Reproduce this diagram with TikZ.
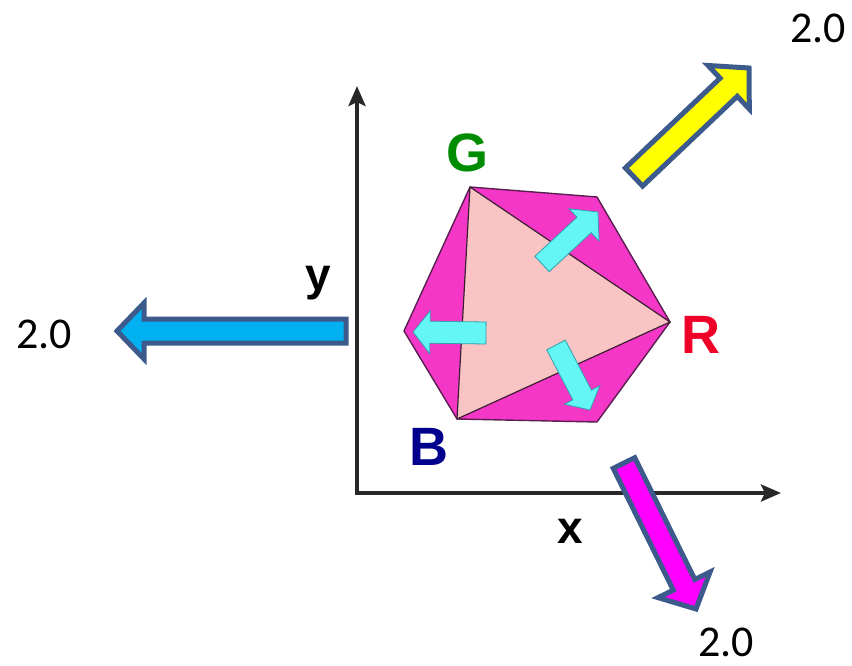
\documentclass[tikz,border=0pt]{standalone}
\usepackage{fontspec}
\setmainfont{Carlito}
\newfontfamily\arialfont{Liberation Sans}
\usetikzlibrary{arrows.meta, calc}
\definecolor{hexpink}{RGB}{245, 55, 200}
\definecolor{tripink}{RGB}{250, 196, 196}
\definecolor{arrowcyan}{RGB}{100, 245, 245}
\definecolor{cyanedge}{RGB}{50, 160, 170}
\definecolor{edgeblue}{RGB}{60, 90, 140}
\definecolor{skyblue}{RGB}{0, 176, 240}
\definecolor{brightyellow}{RGB}{255, 255, 0}
\definecolor{brightmagenta}{RGB}{255, 0, 255}
\definecolor{gletter}{RGB}{0, 140, 0}
\definecolor{rletter}{RGB}{240, 0, 40}
\definecolor{bletter}{RGB}{0, 0, 140}
\definecolor{axisgray}{RGB}{40, 40, 40}

% #1 style, #2 tail, #3 tip, #4 half shaft, #5 half head, #6 head length
\newcommand{\blockarrow}[6]{%
  \coordinate (hb) at ($(#3)!#6!(#2)$);
  \draw[#1] ($(#2)!#4!90:(#3)$) -- ($(hb)!#4!90:(#3)$) -- ($(hb)!#5!90:(#3)$) -- (#3)
    -- ($(hb)!#5!-90:(#3)$) -- ($(hb)!#4!-90:(#3)$) -- ($(#2)!#4!-90:(#3)$) -- cycle;
}

\begin{document}
\begin{tikzpicture}[x=1pt, y=-1pt,
  axis/.style={draw=axisgray, line width=4pt, line join=miter,
    {Stealth[length=20pt, width=17pt, inset=4pt]}-{Stealth[length=20pt, width=17pt, inset=4pt]}},
  hexedge/.style={draw={rgb,255:red,90;green,30;blue,80}, line width=1.4pt, line join=round},
  triedge/.style={draw={rgb,255:red,60;green,30;blue,50}, line width=1.2pt, line join=round},
  bigarrow/.style={draw=edgeblue, line width=5pt, line join=miter},
  smallarrow/.style={draw=cyanedge, fill=arrowcyan, line width=0.8pt, line join=miter},
  letter/.style={font=\arialfont\bfseries\fontsize{54}{60}\selectfont, anchor=base, inner sep=0pt},
  axislabel/.style={font=\arialfont\bfseries\fontsize{46}{50}\selectfont, anchor=base, inner sep=0pt},
  value/.style={font=\fontsize{44}{48}\selectfont, anchor=base, inner sep=0pt}
]
  \useasboundingbox (0,0) rectangle (852,666);

  \coordinate (O) at (357,493);
  \coordinate (ytop) at (357,86);
  \coordinate (xend) at (781,493);
  \draw[axis] (ytop) -- (O) -- (xend);

  \coordinate (G) at (470,187);
  \coordinate (hTR) at (597,197);
  \coordinate (R) at (670,322);
  \coordinate (hBR) at (597,422);
  \coordinate (B) at (457,419);
  \coordinate (hL) at (404,331);
  \draw[hexedge, fill=hexpink] (G) -- (hTR) -- (R) -- (hBR) -- (B) -- (hL) -- cycle;
  \draw[triedge, fill=tripink] (G) -- (R) -- (B) -- cycle;

  \coordinate (c1tail) at (542,264);
  \coordinate (c1tip) at (598,212);
  \coordinate (c2tail) at (486,333);
  \coordinate (c2tip) at (413,332);
  \coordinate (c3tail) at (556,345);
  \coordinate (c3tip) at (590,410);
  \blockarrow{smallarrow}{c1tail}{c1tip}{10.5pt}{22pt}{19pt}
  \blockarrow{smallarrow}{c2tail}{c2tip}{11pt}{21.5pt}{17pt}
  \blockarrow{smallarrow}{c3tail}{c3tip}{10.5pt}{20pt}{17pt}

  \coordinate (ytail) at (634,177);
  \coordinate (ytip) at (749,68);
  \coordinate (btail) at (346,331);
  \coordinate (btip) at (117,331);
  \coordinate (mtail) at (624,463);
  \coordinate (mtip) at (696,609);
  \blockarrow{bigarrow, fill=brightyellow}{ytail}{ytip}{12.5pt}{30pt}{28pt}
  \blockarrow{bigarrow, fill=skyblue}{btail}{btip}{12pt}{28pt}{27pt}
  \blockarrow{bigarrow, fill=brightmagenta}{mtail}{mtip}{12pt}{29pt}{27pt}

  \node[letter, text=gletter] (Glabel) at (467,172) {G};
  \node[letter, text=rletter] (Rlabel) at (701,353) {R};
  \node[letter, text=bletter] (Blabel) at (429,465) {B};
  \node[axislabel] (ylabel) at (318,290) {y};
  \node[axislabel] (xlabel) at (570,543) {x};
  \node[value] (vyellow) at (818,43) {2.0};
  \node[value] (vblue) at (44,348) {2.0};
  \node[value] (vmagenta) at (726,656) {2.0};
\end{tikzpicture}
\end{document}
